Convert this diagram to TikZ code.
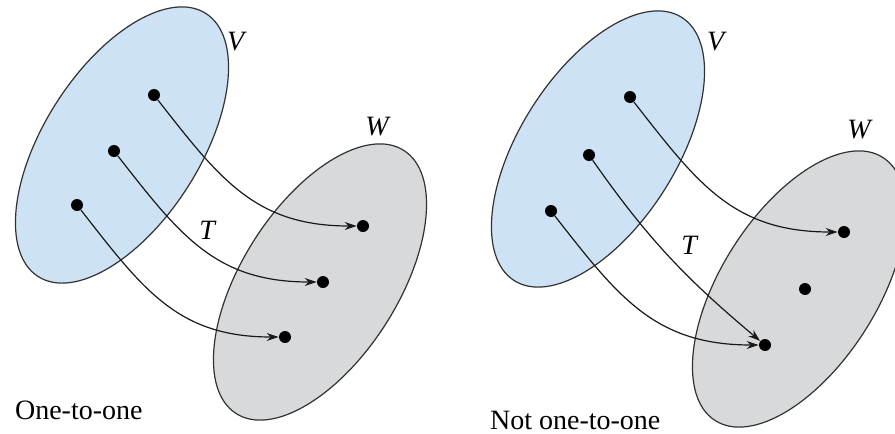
\documentclass[tikz,border=0pt]{standalone}
\usepackage{fontspec}
\setmainfont{Liberation Serif}
\usetikzlibrary{shapes.geometric,arrows.meta}
\definecolor{setblue}{RGB}{205,226,245}
\definecolor{setgray}{RGB}{216,217,219}
\definecolor{rim}{RGB}{50,50,50}

\begin{document}
\begin{tikzpicture}[x=0.5pt,y=-0.5pt,
  every node/.style={font=\fontsize{14}{16}\selectfont},
  set/.style={ellipse,draw=rim,line width=0.6pt,minimum width=156pt,minimum height=78pt,rotate=57.5,inner sep=0pt},
  elem/.style={circle,fill=black,minimum size=6pt,inner sep=0pt},
  map/.style={-{Stealth[length=6pt,width=4pt]},line width=0.6pt,draw=black!90}]
  \useasboundingbox (0,0) rectangle (895,434);
  % one-to-one
  \node[set,fill=setblue] (V) at (122,145) {};
  \node[set,fill=setgray] (W) at (320,282) {};
  \node (lV) at (237,42) {\textit{V}};
  \node (lW) at (378,127) {\textit{W}};
  \node (lT) at (208,230) {\textit{T}};
  \foreach \n/\x/\y in {1/154/95,2/114/151,3/77/205}
    \node[elem] (v\n) at (\x,\y) {};
  \foreach \n/\x/\y in {1/363/226,2/323/282,3/285/337}
    \node[elem] (w\n) at (\x,\y) {};
  \foreach \n in {1,2,3}
    \draw[map] (v\n) to[out=-52,in=180,looseness=1.1] (w\n);
  \node[anchor=west] (cap1) at (8,410) {One-to-one};

  % not one-to-one
  \node[set,fill=setblue] (Vb) at (598,149) {};
  \node[set,fill=setgray] (Wb) at (799,289) {};
  \node (lVb) at (717,42) {\textit{V}};
  \node (lWb) at (860,130) {\textit{W}};
  \node (lTb) at (690,245) {\textit{T}};
  \foreach \n/\x/\y in {1/630/97,2/589/155,3/551/211}
    \node[elem] (p\n) at (\x,\y) {};
  \foreach \n/\x/\y in {1/844/232,2/805/289,3/765/345}
    \node[elem] (q\n) at (\x,\y) {};
  \draw[map] (p1) to[out=-52,in=180,looseness=1.1] (q1);
  \draw[map] (p2) to[out=-55,in=140] (q3);
  \draw[map] (p3) to[out=-52,in=180,looseness=1.1] (q3);
  \node[anchor=west] (cap2) at (483,420) {Not one-to-one};
\end{tikzpicture}
\end{document}
